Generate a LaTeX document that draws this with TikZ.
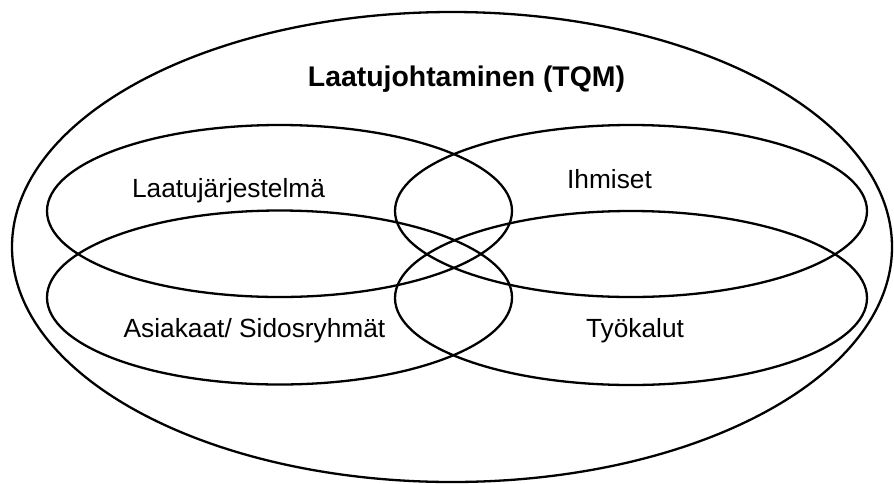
\documentclass[tikz,border=0pt]{standalone}
\usepackage{fontspec}
\setmainfont{Liberation Sans}
\usepackage{tikz}

\begin{document}
\begin{tikzpicture}[x=1pt,y=-1pt]
    \useasboundingbox (0,0) rectangle (894,483);
    \begin{scope}[line width=2.3pt, draw=black]
        \draw (452,247) ellipse (440 and 235);
        \draw (279.5,211) ellipse (232.5 and 86);
        \draw (631,211) ellipse (236 and 86);
        \draw (279.5,297.5) ellipse (232.5 and 87);
        \draw (631,298) ellipse (236 and 87);
    \end{scope}
    \node[anchor=base] at (466.5,86) (TQM) {\fontsize{28.4}{32}\selectfont\textbf{Laatujohtaminen (TQM)}};
    \node[anchor=base] at (228.5,197) (LJ) {\fontsize{26.3}{30}\selectfont Laatujärjestelmä};
    \node[anchor=base] at (609.5,188) (IH) {\fontsize{26.3}{30}\selectfont Ihmiset};
    \node[anchor=base] at (254.5,337) (AS) {\fontsize{26.3}{30}\selectfont Asiakaat/ Sidosryhmät};
    \node[anchor=base] at (635,337) (TY) {\fontsize{26.3}{30}\selectfont Työkalut};
\end{tikzpicture}
\end{document}
